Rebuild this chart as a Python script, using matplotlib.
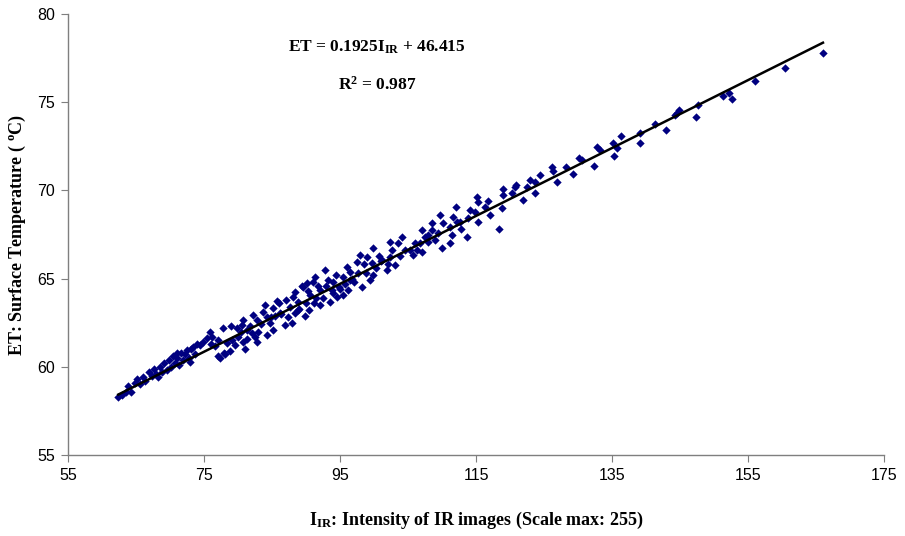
import matplotlib.pyplot as plt
import numpy as np

# trendline coefficients shown on the chart
slope = 0.1925
intercept = 46.415
r_squared = 0.987

# low intensity part of the cloud
ir_low = [62.4, 62.9, 63.5, 63.9, 64.3, 64.8, 65.2, 65.6, 66.0, 66.4, 66.9, 67.3, 67.6,
          68.0, 68.3, 68.6, 68.9, 69.2, 69.5, 69.8, 70.1, 70.4, 70.7, 71.0, 71.3, 71.6,
          71.9, 72.2, 72.5, 72.8, 73.1, 73.4, 73.7, 74.0, 74.4, 74.9, 75.4, 75.9, 76.2,
          76.6, 77.0, 77.4, 77.8, 78.1, 78.4, 78.8, 79.2, 79.6, 79.9, 73.0, 71.0, 76.0,
          77.1, 78.0, 79.0]
et_low = [58.3, 58.4, 58.6, 58.9, 58.6, 59.1, 59.3, 59.0, 59.4, 59.2, 59.7, 59.5, 59.9,
          59.6, 59.4, 60.0, 59.7, 60.2, 59.8, 60.4, 60.0, 60.6, 60.2, 60.5, 60.1, 60.8,
          60.4, 60.7, 60.95, 60.5, 61.0, 61.12, 60.7, 61.3, 61.24, 61.41, 61.63, 61.97, 61.69,
          61.2, 61.5, 60.5, 62.2, 60.7, 61.35, 60.9, 61.5, 61.24, 62.2, 60.3, 60.8, 61.3,
          60.6, 60.8, 62.3]

# middle part
ir_mid = [80.0, 80.6, 80.7, 80.7, 81.3, 81.0, 82.2, 82.5, 82.8, 82.8, 83.7, 84.0, 84.3,
          84.3, 84.7, 85.1, 85.1, 85.7, 86.2, 86.9, 87.4, 87.9, 88.1, 88.4, 88.4, 88.8,
          89.4, 90.1, 89.6, 90.6, 91.0, 91.3, 92.1, 92.8, 93.8, 94.0, 94.6, 95.4, 95.4,
          96.0, 96.2, 96.5, 97.5, 97.6, 97.9, 98.2, 99.4, 99.7, 99.9, 99.9, 101.2, 101.9,
          102.4, 102.4, 102.6, 103.1, 103.5, 104.1, 105.3, 105.7, 106.8, 107.1, 107.1, 107.5,
          107.9, 108.5, 108.5, 109.4, 109.7, 110.0,
          89.0, 90.0, 91.5, 92.5, 93.0, 94.0, 86.0, 87.0, 83.0, 81.8, 85.5, 90.5, 92.0,
          93.5, 95.0, 96.8, 98.8, 100.3, 100.8, 103.8, 104.5, 106.0, 106.3, 108.0, 109.0,
          98.5, 97.0, 95.8, 94.8, 93.2, 91.8, 90.3, 88.9, 87.6, 86.4, 84.8, 83.4, 82.0,
          81.4, 80.4, 89.8, 91.2, 99.0, 101.0, 102.0, 96.5, 94.4]
et_mid = [61.69, 62.37, 62.65, 61.41, 62.09, 61.0, 62.94, 61.69, 62.65, 61.41, 63.11, 63.5, 62.82,
          61.8, 62.48, 63.33, 62.09, 63.73, 63.05, 62.37, 62.82, 62.48, 63.96, 64.24, 63.05, 63.22,
          64.58, 64.75, 64.52, 64.07, 64.81, 65.09, 64.35, 65.49, 64.35, 64.81, 63.96, 64.07, 65.09,
          65.66, 64.35, 64.92, 65.94, 65.32, 66.34, 64.52, 64.92, 65.88, 66.73, 65.2, 66.05, 65.49,
          67.07, 66.22, 66.62, 65.77, 67.02, 67.36, 66.62, 66.34, 67.02, 67.76, 66.51, 67.36,
          67.07, 68.15, 67.76, 67.59, 68.61, 66.73,
          63.3, 63.6, 63.9, 63.9, 64.6, 64.2, 63.6, 63.8, 62.0, 62.3, 62.9, 63.2, 63.5,
          63.7, 64.4, 65.0, 65.3, 65.6, 66.3, 66.3, 66.6, 67.0, 66.6, 67.5, 67.2,
          65.8, 64.8, 64.7, 64.5, 64.9, 64.6, 64.3, 63.7, 63.4, 63.0, 62.8, 62.4, 61.9,
          61.6, 62.0, 62.9, 63.6, 66.2, 66.0, 65.8, 65.4, 65.2]

# high intensity part
ir_high = [110.1, 111.2, 111.2, 111.5, 111.6, 112.1, 112.2, 112.6, 112.8, 113.7, 113.8, 114.1,
           114.9, 115.1, 115.3, 115.3, 116.3, 116.8, 117.1, 118.4, 118.8, 119.0, 119.0, 120.3,
           120.7, 120.9, 121.9, 122.5, 122.9, 123.7, 123.7, 124.4, 126.2, 126.3, 126.9, 128.2,
           129.3, 130.1, 130.6, 132.4, 132.8, 133.2, 135.1, 135.3, 135.7, 136.3, 139.1, 139.1,
           141.3, 142.9, 144.3, 144.6, 144.9, 147.4, 147.6, 151.3, 152.2, 152.6, 156.0, 160.4,
           166.0]
et_high = [68.15, 67.93, 67.02, 67.47, 68.49, 69.06, 68.21, 68.21, 67.81, 67.36, 68.44, 68.89,
           68.78, 69.63, 69.34, 68.21, 69.06, 69.4, 68.61, 67.81, 69.0, 70.08, 69.74, 69.85,
           70.19, 70.31, 69.46, 70.19, 70.59, 70.48, 69.85, 70.87, 71.33, 71.1, 70.48, 71.33,
           70.93, 71.84, 71.72, 71.38, 72.46, 72.29, 72.69, 71.95, 72.4, 73.08, 73.25, 72.69,
           73.76, 73.42, 74.27, 74.39, 74.56, 74.16, 74.84, 75.35, 75.52, 75.18, 76.2, 76.94,
           77.79]


def main():
    plt.rcParams['mathtext.fontset'] = 'custom'
    plt.rcParams['mathtext.rm'] = 'Liberation Serif:bold'
    plt.rcParams['mathtext.it'] = 'Liberation Serif:bold'
    plt.rcParams['mathtext.bf'] = 'Liberation Serif:bold'

    ir = np.array(ir_low + ir_mid + ir_high)
    et = np.array(et_low + et_mid + et_high)

    fig = plt.figure(figsize=(9.05, 5.36), dpi=100)
    ax = fig.add_axes([0.075, 0.151, 0.902, 0.823])

    ax.scatter(ir, et, marker='D', s=18, color='#000080', linewidths=0, zorder=2)

    # trendline over the data range
    xs = np.array([ir.min(), ir.max()])
    ax.plot(xs, slope * xs + intercept, color='black', lw=1.8, zorder=3)

    ax.set_xlim(55, 175)
    ax.set_ylim(55, 80)
    ax.set_xticks(np.arange(55, 176, 20))
    ax.set_yticks(np.arange(55, 81, 5))

    for side in ['top', 'right']:
        ax.spines[side].set_visible(False)
    for side in ['left', 'bottom']:
        ax.spines[side].set_color('#7f7f7f')
        ax.spines[side].set_linewidth(1)
    ax.tick_params(direction='out', length=5, color='#7f7f7f', labelsize=11.5, pad=4)
    for lab in ax.get_xticklabels() + ax.get_yticklabels():
        lab.set_family('Liberation Sans')

    serif = {'family': 'Liberation Serif', 'weight': 'bold', 'size': 12.5}
    label_font = {'family': 'Liberation Serif', 'weight': 'bold', 'size': 13}
    ax.set_xlabel(r'$\mathrm{I_{IR}}$: Intensity of IR images (Scale max: 255)',
                  fontdict=label_font, labelpad=20)
    ax.set_ylabel(r'ET: Surface Temperature ( $^{\mathrm{o}}$C)', fontdict=label_font,
                  labelpad=7)

    ax.text(100.4, 78.1, r'ET = 0.1925$\mathrm{I_{IR}}$ + 46.415',
            ha='center', va='center', fontdict=serif)
    ax.text(100.4, 76.0, r'R$^{2}$ = ' + str(r_squared),
            ha='center', va='center', fontdict=serif)

    fig.savefig('out.png', dpi=100)


if __name__ == "__main__":
    main()
